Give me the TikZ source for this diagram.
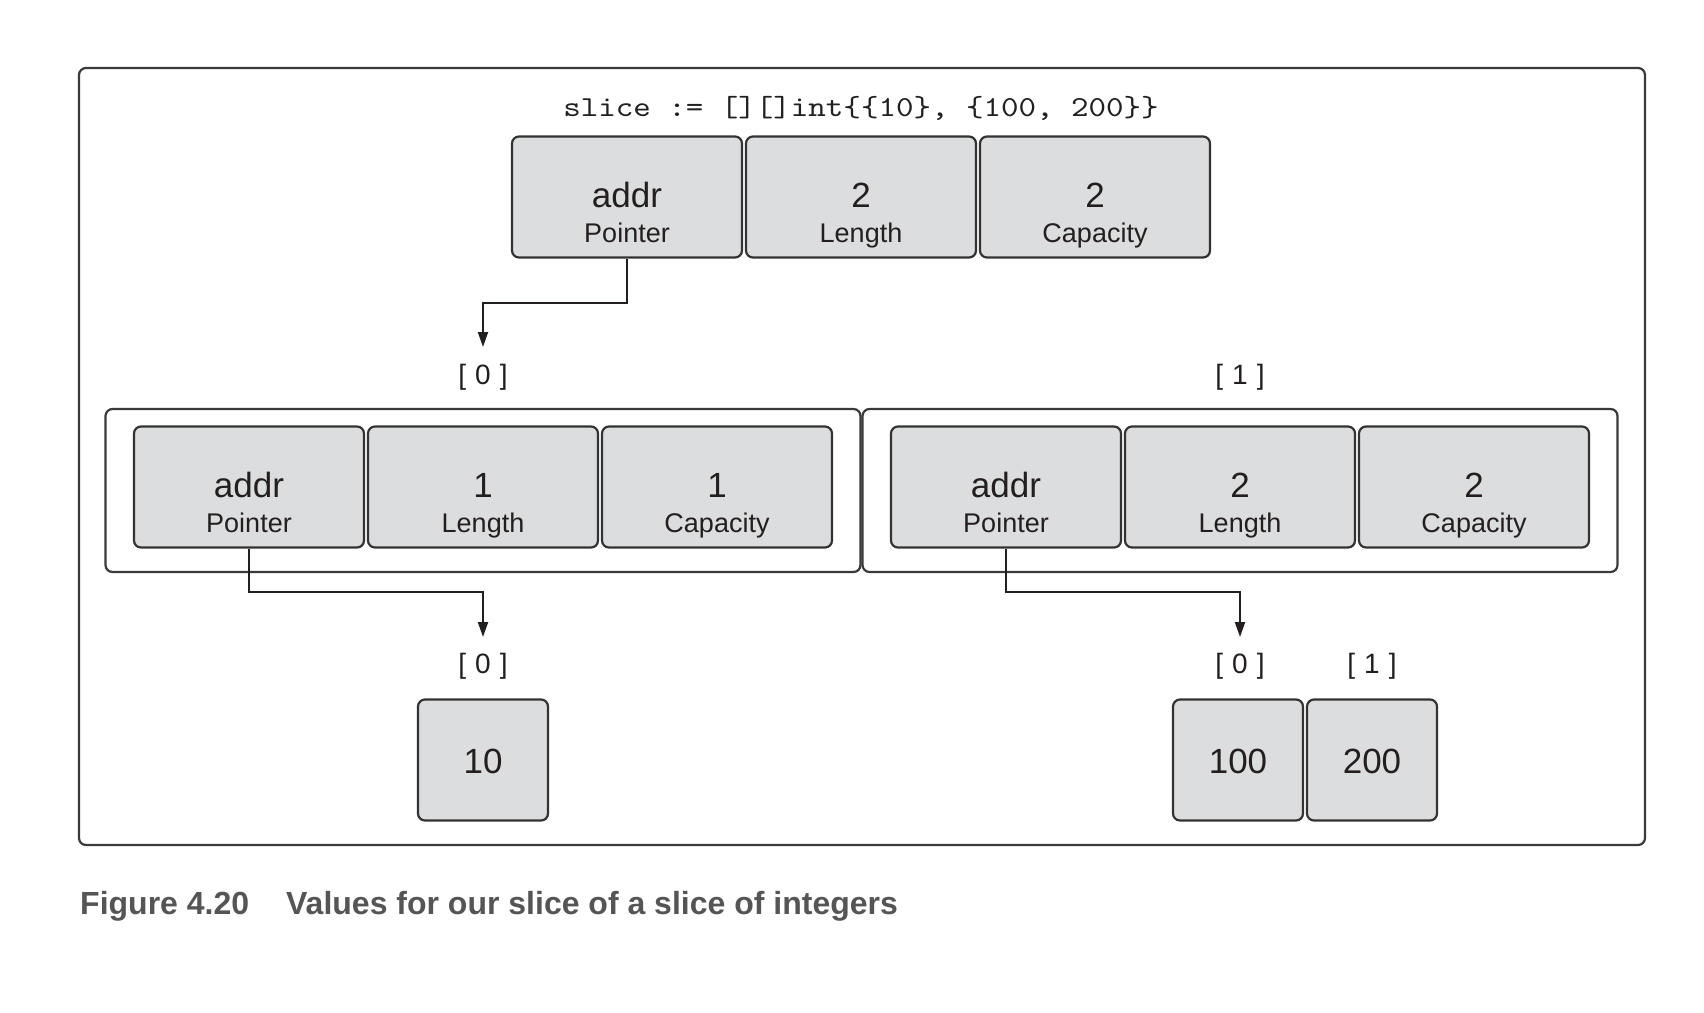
\documentclass[tikz,border=0pt]{standalone}
\usepackage{fontspec}
\setmainfont{Liberation Sans}
\newfontfamily\codefont[FakeStretch=1.15]{lmmono10-regular.otf}
\usetikzlibrary{arrows.meta}
\definecolor{boxfill}{HTML}{DCDDDE}
\definecolor{boxline}{HTML}{333333}
\definecolor{frameline}{HTML}{3A3A3A}
\definecolor{ink}{HTML}{231F20}
\definecolor{capgray}{HTML}{555557}
\newcommand\mycell[5]{%
  \node[cellbox] (#1) at (#2,#3) {};
  \node[valtext] (#1-v) at (#2,#3+10) {#4};
  \node[lbltext] (#1-l) at (#2,#3+45) {#5};
}
\newcommand\idx[1]{[\hspace{9pt}#1\hspace{9pt}]}
\begin{document}
\begin{tikzpicture}[x=1pt,y=-1pt,
  cellbox/.style={draw=boxline, fill=boxfill, line width=2.2pt, rounded corners=7pt,
    minimum width=230pt, minimum height=121pt, inner sep=0pt},
  smallbox/.style={cellbox, minimum width=130pt},
  framebox/.style={draw=frameline, line width=2.2pt, rounded corners=7pt, inner sep=0pt},
  valtext/.style={anchor=base, font=\fontsize{35}{40}\selectfont, text=ink, inner sep=0pt},
  lbltext/.style={anchor=base, font=\fontsize{27}{32}\selectfont, text=ink, inner sep=0pt},
  idxtext/.style={anchor=base, font=\fontsize{28}{32}\selectfont, text=ink, inner sep=0pt},
  conn/.style={draw=ink, line width=2pt, -{Triangle[length=15pt,width=10pt]}},
]
\useasboundingbox (0,0) rectangle (1704,1012);
\fill[white] (0,0) rectangle (1704,1012);

% outer frame
\node[framebox, minimum width=1566pt, minimum height=777pt] (outer) at (862,456.5) {};

% code line
\node[anchor=base, font=\codefont\fontsize{29}{34}\selectfont, text=ink, inner sep=0pt] (code)
  at (861,116) {slice := [][]int\{\{10\}, \{100, 200\}\}};

% top slice header
\mycell{tp}{627}{197}{addr}{Pointer}
\mycell{tl}{861}{197}{2}{Length}
\mycell{tc}{1095}{197}{2}{Capacity}

% index labels for outer slice
\node[idxtext] (i0) at (483,384) {\idx{0}};
\node[idxtext] (i1) at (1240,384) {\idx{1}};

% middle frames
\node[framebox, minimum width=755pt, minimum height=163pt] (fl) at (483,490.5) {};
\node[framebox, minimum width=755pt, minimum height=163pt] (fr) at (1240,490.5) {};

\mycell{lp}{249}{487}{addr}{Pointer}
\mycell{ll}{483}{487}{1}{Length}
\mycell{lc}{717}{487}{1}{Capacity}

\mycell{rp}{1006}{487}{addr}{Pointer}
\mycell{rl}{1240}{487}{2}{Length}
\mycell{rc}{1474}{487}{2}{Capacity}

% bottom index labels
\node[idxtext] (j0) at (483,673) {\idx{0}};
\node[idxtext] (k0) at (1240,673) {\idx{0}};
\node[idxtext] (k1) at (1372,673) {\idx{1}};

% bottom arrays
\node[smallbox] (a10) at (483,760) {};
\node[valtext] (a10-v) at (483,773) {10};
\node[smallbox] (a100) at (1238,760) {};
\node[valtext] (a100-v) at (1238,773) {100};
\node[smallbox] (a200) at (1372,760) {};
\node[valtext] (a200-v) at (1372,773) {200};

% connectors
\coordinate (t0) at (483,347);
\coordinate (b0) at (483,637);
\coordinate (b1) at (1240,637);
\draw[conn] (tp.south) -- ++(0,44) -| (t0);
\draw[conn] (lp.south) -- ++(0,43) -| (b0);
\draw[conn] (rp.south) -- ++(0,43) -| (b1);

% caption
\node[anchor=base west, font=\bfseries\fontsize{32}{38}\selectfont, text=capgray, inner sep=0pt] (cap)
  at (80,914) {Figure 4.20\hspace{37pt}Values for our slice of a slice of integers};
\end{tikzpicture}
\end{document}
